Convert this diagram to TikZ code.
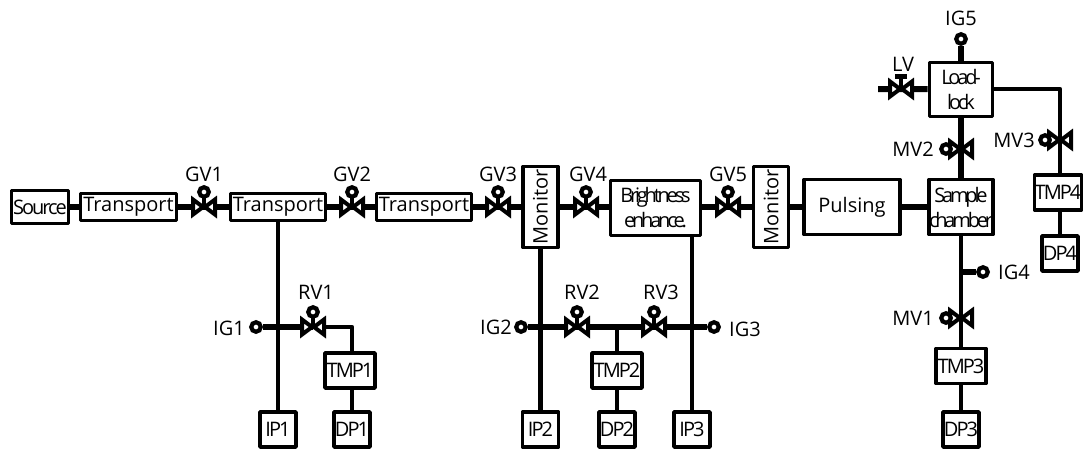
\documentclass[tikz,border=0pt]{standalone}
\usepackage{fontspec}
\setmainfont{Open Sans}
\newfontfamily\tightfont[LetterSpace=-10]{Open Sans}
\newfontfamily\tighterfont[LetterSpace=-16]{Open Sans}
\usetikzlibrary{positioning}
\tikzset{
  unit/.style={draw,line width=3.6pt,line join=round,fill=white,inner sep=0pt,align=center,font=\fontsize{20}{25}\selectfont},
  tight/.style={font=\tightfont\fontsize{20}{25}\selectfont},
  tighter/.style={font=\tighterfont\fontsize{20}{25}\selectfont},
  pipe/.style={line width=6pt,line join=round},
  riser/.style={line width=4.8pt,line join=round},
  gauge/.style={draw,circle,line width=4.2pt,fill=white,inner sep=0pt,minimum size=9.5pt},
  tag/.style={font=\fontsize{20}{22}\selectfont,inner sep=0pt},
  pics/bowtie/.style={code={
    \draw[line width=4pt,line join=miter,fill=white] (-11,7.5) -- (-11,-7.5) -- (-1,0) -- cycle;
    \draw[line width=4pt,line join=miter,fill=white] (11,7.5) -- (11,-7.5) -- (1,0) -- cycle;
  }},
  pics/handvalve/.style={code={
    \draw[line width=4pt] (0,0) -- (0,10);
    \pic {bowtie};
    \node[gauge] at (0,15) {};
  }}
}
\begin{document}
\begin{tikzpicture}[x=1pt,y=1pt]
  \useasboundingbox (0,0) rectangle (1084,-450);
  % beamline
  \node[unit,tight,minimum width=57pt,minimum height=33pt] (source) at (40,-207) {Source};
  \node[unit,minimum width=96pt,minimum height=27pt] (transporta) at (128.5,-207) {Transport};
  \node[unit,minimum width=95pt,minimum height=27pt] (transportb) at (278,-207) {Transport};
  \node[unit,minimum width=95pt,minimum height=27pt] (transportc) at (424,-207) {Transport};
  \node[unit,minimum width=35pt,minimum height=81pt] (monitora) at (540.5,-207) {\rotatebox{90}{Monitor}};
  \node[unit,tighter,minimum width=90pt,minimum height=55pt] (bright) at (655.5,-208) {Brightness\\enhance.};
  \node[unit,minimum width=35pt,minimum height=81pt] (monitorb) at (771,-207) {\rotatebox{90}{Monitor}};
  \node[unit,minimum width=96pt,minimum height=55pt] (pulsing) at (852,-207) {Pulsing};
  \node[unit,tighter,minimum width=63pt,minimum height=55pt] (sample) at (961,-207) {Sample\\chamber};
  \node[unit,tighter,minimum width=63pt,minimum height=54pt] (loadlock) at (961,-89.5) {Load-\\lock};
  % pumps
  \foreach \name/\lab/\x/\y/\w in {ipa/IP1/278/-429.5/36,ipb/IP2/540.5/-429.5/36,ipc/IP3/692/-429.5/36,
      dpa/DP1/352/-429.5/36,dpb/DP2/617/-429.5/36,dpc/DP3/961/-429.5/36,dpd/DP4/1060/-253.5/36,
      tmpa/TMP1/350/-370.5/50,tmpb/TMP2/617/-370.5/50,tmpc/TMP3/961/-366/50,tmpd/TMP4/1058/-192.5/47}
    \node[unit,tight,minimum width=\w pt,minimum height=35pt] (\name) at (\x,\y) {\lab};
  % gauges
  \foreach \name/\x/\y in {iga/256/-327,igb/521/-327,igc/714/-327,igd/983/-272,ige/961/-39}
    \node[gauge] (\name) at (\x,\y) {};
  % valve positions
  \foreach \name/\x/\y in {gva/204/-207,gvb/352/-207,gvc/498/-207,gvd/586/-207,gve/728/-207,
      rva/313/-327,rvb/577/-327,rvc/654/-327,mva/961/-318,mvb/961/-149,mvc/1060/-140,lv/901/-89}
    \coordinate (\name) at (\x,\y);
  \coordinate (lvend) at (878,-89);
  \coordinate (rvacorner) at (352,-327);
  \coordinate (tmpbtee) at (617,-327);
  \coordinate (igdtee) at (961,-272);
  \coordinate (mvccorner) at (1060,-89);
  % pipes
  \draw[pipe] (source) -- (transporta);
  \draw[pipe] (transporta) -- (gva) -- (transportb);
  \draw[pipe] (transportb) -- (gvb) -- (transportc);
  \draw[pipe] (transportc) -- (gvc) -- (monitora);
  \draw[pipe] (monitora) -- (gvd) -- (bright.west |- gvd);
  \draw[pipe] (bright.east |- gve) -- (gve) -- (monitorb);
  \draw[pipe] (monitorb) -- (pulsing);
  \draw[pipe] (pulsing) -- (sample);
  \draw[riser] (transportb.south) -- (ipa.north);
  \draw[riser] (monitora.south) -- (ipb.north);
  \draw[riser] (bright.south -| ipc) -- (ipc.north);
  \draw[pipe] (iga) -- (rva);
  \draw[riser] (rva) -- (rvacorner) -- (rvacorner |- tmpa.north);
  \draw[riser] (tmpa.south -| dpa) -- (dpa.north);
  \draw[pipe] (igb) -- (rvb) -- (rvc) -- (igc);
  \draw[riser] (tmpbtee) -- (tmpb.north);
  \draw[riser] (tmpb) -- (dpb);
  \draw[riser] (sample.south) -- (mva) -- (tmpc.north);
  \draw[pipe] (igdtee) -- (igd);
  \draw[riser] (tmpc) -- (dpc);
  \draw[pipe] (sample.north) -- (mvb) -- (loadlock.south);
  \draw[pipe] (loadlock.north) -- (ige);
  \draw[pipe] (lvend) -- (lv) -- (loadlock);
  \draw[riser] (loadlock.east |- mvccorner) -- (mvccorner) -- (mvc) -- (tmpd.north -| mvc);
  \draw[riser] (tmpd.south -| dpd) -- (dpd.north);
  % valves
  \foreach \name in {gva,gvb,gvc,gvd,gve,rva,rvb,rvc}
    \pic at (\name) {handvalve};
  \foreach \name in {mva,mvb,mvc}
    \pic[rotate=90] at (\name) {handvalve};
  \draw[line width=4pt] (lv) -- +(0,11);
  \draw[line width=5pt] (895,-76) -- (907,-76);
  \pic at (lv) {bowtie};
  % labels
  \foreach \name/\lab/\x/\y in {taggva/GV1/204/-174,taggvb/GV2/352/-174,taggvc/GV3/498/-174,
      taggvd/GV4/588/-174,taggve/GV5/728/-174,tagrva/RV1/316/-292,tagrvb/RV2/582/-292,tagrvc/RV3/661/-292,
      taglv/LV/903/-64,tagige/IG5/961/-18}
    \node[tag] (\name) at (\x,\y) {\lab};
  \node[tag,anchor=east] (tagiga) at (245,-328) {IG1};
  \node[tag,anchor=east] (tagigb) at (512,-327) {IG2};
  \node[tag,anchor=west] (tagigc) at (729,-329) {IG3};
  \node[tag,anchor=west] (tagigd) at (998,-272) {IG4};
  \node[tag,anchor=east] (tagmva) at (934,-318) {MV1};
  \node[tag,anchor=east] (tagmvb) at (934,-149) {MV2};
  \node[tag,anchor=east] (tagmvc) at (1035,-140) {MV3};
\end{tikzpicture}
\end{document}
